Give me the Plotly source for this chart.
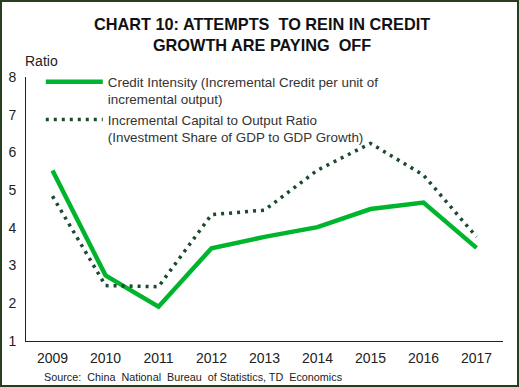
import plotly.graph_objects as go

# Annual series, 2009-2017
years = ["2009", "2010", "2011", "2012", "2013", "2014", "2015", "2016", "2017"]
credit_intensity = [5.52, 2.74, 1.91, 3.46, 3.76, 4.02, 4.50, 4.67, 3.47]
icor = [4.84, 2.47, 2.44, 4.35, 4.47, 5.53, 6.24, 5.40, 3.76]

W, H = 519, 387
ML, MR, MT, MB = 26, 16, 77, 46
PW, PH = W - ML - MR, H - MT - MB

FONT = "Liberation Sans, Arial, sans-serif"

fig = go.Figure()
fig.add_trace(go.Scatter(
    x=years, y=credit_intensity, mode="lines",
    name="Credit Intensity (Incremental Credit per unit of<br>incremental output)",
    line=dict(color="#00b52e", width=4.5),
))
fig.add_trace(go.Scatter(
    x=years, y=icor, mode="lines",
    name="Incremental Capital to Output Ratio<br>(Investment Share of GDP to GDP Growth)",
    line=dict(color="#1b4a2c", width=3.5, dash="3px,5px"),
))

fig.update_layout(
    width=W, height=H,
    margin=dict(l=ML, r=MR, t=MT, b=MB, autoexpand=False),
    paper_bgcolor="white", plot_bgcolor="white",
    font=dict(family=FONT, color="#222222"),
    title=dict(
        text="<b>CHART 10: ATTEMPTS  TO REIN IN CREDIT<br>GROWTH ARE PAYING  OFF</b>",
        x=0.505, xanchor="center", y=0.922, yanchor="middle",
        font=dict(size=16.3, color="#111111", family=FONT),
    ),
    showlegend=True,
    legend=dict(
        x=0.031, y=1.04, xanchor="left", yanchor="top",
        bgcolor="rgba(0,0,0,0)", valign="top",
        font=dict(size=13.4, color="#333333", family=FONT),
        tracegroupgap=0, itemwidth=57,
    ),
    xaxis=dict(
        type="category", showgrid=False, zeroline=False,
        showline=True, linecolor="#222222", linewidth=1,
        ticks="", tickfont=dict(size=14, color="#222222"),
        ticklabelstandoff=4,
        range=[-0.5, 8.5],
    ),
    yaxis=dict(
        range=[1, 8], dtick=1, showgrid=False, zeroline=False,
        showline=True, linecolor="#222222", linewidth=1,
        ticks="", ticklen=0, tickfont=dict(size=14, color="#222222"),
        ticklabelstandoff=6,
    ),
)

fig.add_annotation(
    text="Ratio", xref="paper", yref="paper",
    x=-3 / PW, y=1 + 16 / PH, xanchor="left", yanchor="middle",
    showarrow=False, font=dict(size=14, color="#222222"),
)
fig.add_annotation(
    text="Source:  China  National  Bureau  of Statistics, TD  Economics",
    xref="paper", yref="paper",
    x=16 / PW, y=-36 / PH, xanchor="left", yanchor="middle",
    showarrow=False, font=dict(size=10.8, color="#222222"),
)

# Frame around the whole chart
fig.add_shape(
    type="rect", xref="paper", yref="paper",
    x0=-(ML - 1) / PW, x1=1 + (MR - 1) / PW,
    y0=-(MB - 1) / PH, y1=1 + (MT - 1) / PH,
    line=dict(color="#263d1e", width=2), layer="above",
)

fig.write_html("out.html")
